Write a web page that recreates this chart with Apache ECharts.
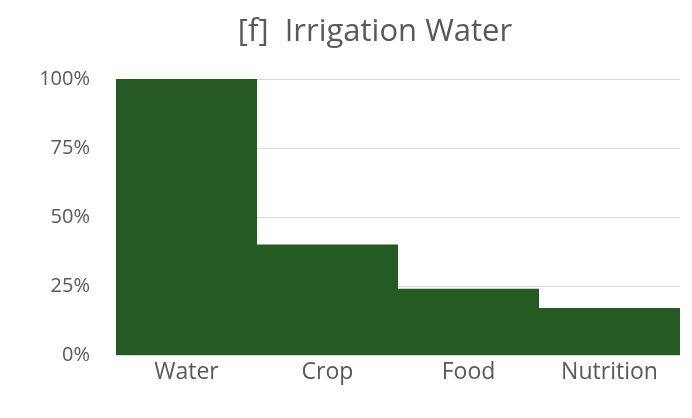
<!DOCTYPE html>
<html>
<head>
<meta charset="utf-8">
<script src="https://cdn.jsdelivr.net/npm/echarts@6/dist/echarts.min.js"></script>
<style>
  html, body { margin: 0; padding: 0; background: #fff; }
  #chart { width: 692px; height: 418px; }
</style>
</head>
<body>
<div id="chart"></div>
<script>
var categories = ["Water", "Crop", "Food", "Nutrition"];
var shares = [100, 40, 24, 17];
var yTicks = [0, 25, 50, 75, 100];

var chart = echarts.init(document.getElementById("chart"));
var font = "'Open Sans', sans-serif";

chart.setOption({
  animation: false,
  title: {
    text: "[f]  Irrigation Water",
    left: 370,
    top: 12,
    textAlign: "center",
    textStyle: {
      fontFamily: font,
      fontSize: 31,
      fontWeight: "normal",
      color: "#595959"
    }
  },
  grid: {
    left: 116,
    right: 12,
    top: 79,
    bottom: 63
  },
  xAxis: {
    type: "category",
    data: categories,
    axisTick: { show: false },
    axisLine: { lineStyle: { color: "#d9d9d9", width: 1 } },
    axisLabel: {
      color: "#595959",
      fontFamily: font,
      fontSize: 23,
      margin: 6
    }
  },
  yAxis: {
    type: "value",
    min: yTicks[0],
    max: yTicks[yTicks.length - 1],
    interval: 25,
    axisLine: { show: false },
    axisTick: { show: false },
    splitLine: { lineStyle: { color: "#d9d9d9", width: 1 } },
    axisLabel: {
      color: "#595959",
      fontFamily: font,
      fontSize: 20,
      margin: 26,
      formatter: "{value}%"
    }
  },
  series: [
    {
      type: "bar",
      data: shares,
      barCategoryGap: "0%",
      itemStyle: { color: "#255a22" }
    }
  ]
});
</script>
</body>
</html>
